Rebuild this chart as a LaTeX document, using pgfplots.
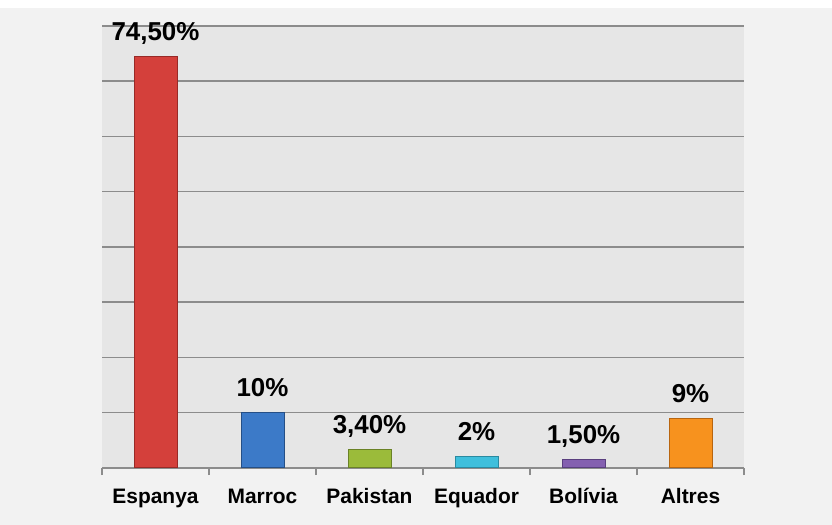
\documentclass[border=0pt]{standalone}
\usepackage{pgfplots}
\pgfplotsset{compat=1.18}
\usepackage{fontspec}
\setmainfont{Liberation Sans}
\definecolor{bgout}{HTML}{F2F2F2}
\definecolor{bgin}{HTML}{E6E6E6}
\definecolor{gridc}{HTML}{8C8C8C}
\definecolor{cred}{HTML}{D4403B}\definecolor{dred}{HTML}{982A27}
\definecolor{cblue}{HTML}{3C7AC8}\definecolor{dblue}{HTML}{254F86}
\definecolor{cgreen}{HTML}{9BBB3A}\definecolor{dgreen}{HTML}{6A8226}
\definecolor{ccyan}{HTML}{3FBFDC}\definecolor{dcyan}{HTML}{2A8AA0}
\definecolor{cpurp}{HTML}{8460B0}\definecolor{dpurp}{HTML}{5A3F7F}
\definecolor{corng}{HTML}{F7921E}\definecolor{dorng}{HTML}{B8650F}
\begin{document}
\begin{tikzpicture}
\useasboundingbox (0,0) rectangle (832bp,525bp);
\fill[white] (0,0) rectangle (832bp,525bp);
\fill[bgout] (0,0) rectangle (832bp,517bp);
\begin{axis}[
  at={(102bp,57bp)}, anchor=south west,
  scale only axis, width=642bp, height=442bp,
  xmin=-0.5, xmax=5.5, ymin=0, ymax=80,
  ybar, bar width=43bp, bar shift=0pt,
  axis background/.style={fill=bgin},
  axis x line*=bottom, axis y line*=left,
  x axis line style={draw=gridc, line width=1.2bp},
  y axis line style={draw=none},
  ytick={0,10,...,80}, yticklabels={}, ytick style={draw=none},
  ymajorgrids, grid style={draw=gridc, line width=1.5bp},
  xtick={0,...,5},
  xticklabels={Espanya,Marroc,Pakistan,Equador,Bolívia,Altres},
  major x tick style={draw=none},
  minor xtick={-0.5,0.5,...,5.5},
  minor x tick style={draw=gridc, line width=1.2bp},
  minor tick length=7bp,
  tick align=outside,
  xticklabel style={font=\fontsize{21}{24}\selectfont\bfseries, anchor=base, yshift=-31bp},
  point meta=explicit symbolic,
  nodes near coords,
  nodes near coords style={font=\fontsize{26}{30}\selectfont\bfseries, anchor=base, yshift=16bp, text=black},
  clip=false,
]
\addplot[fill=cred, draw=dred, line width=1bp] coordinates {(0,74.5) [74,50\%]};
\addplot[fill=cblue, draw=dblue, line width=1bp] coordinates {(1,10) [10\%]};
\addplot[fill=cgreen, draw=dgreen, line width=1bp] coordinates {(2,3.4) [3,40\%]};
\addplot[fill=ccyan, draw=dcyan, line width=1bp] coordinates {(3,2) [2\%]};
\addplot[fill=cpurp, draw=dpurp, line width=1bp] coordinates {(4,1.5) [1,50\%]};
\addplot[fill=corng, draw=dorng, line width=1bp] coordinates {(5,9) [9\%]};
\end{axis}
\end{tikzpicture}
\end{document}
